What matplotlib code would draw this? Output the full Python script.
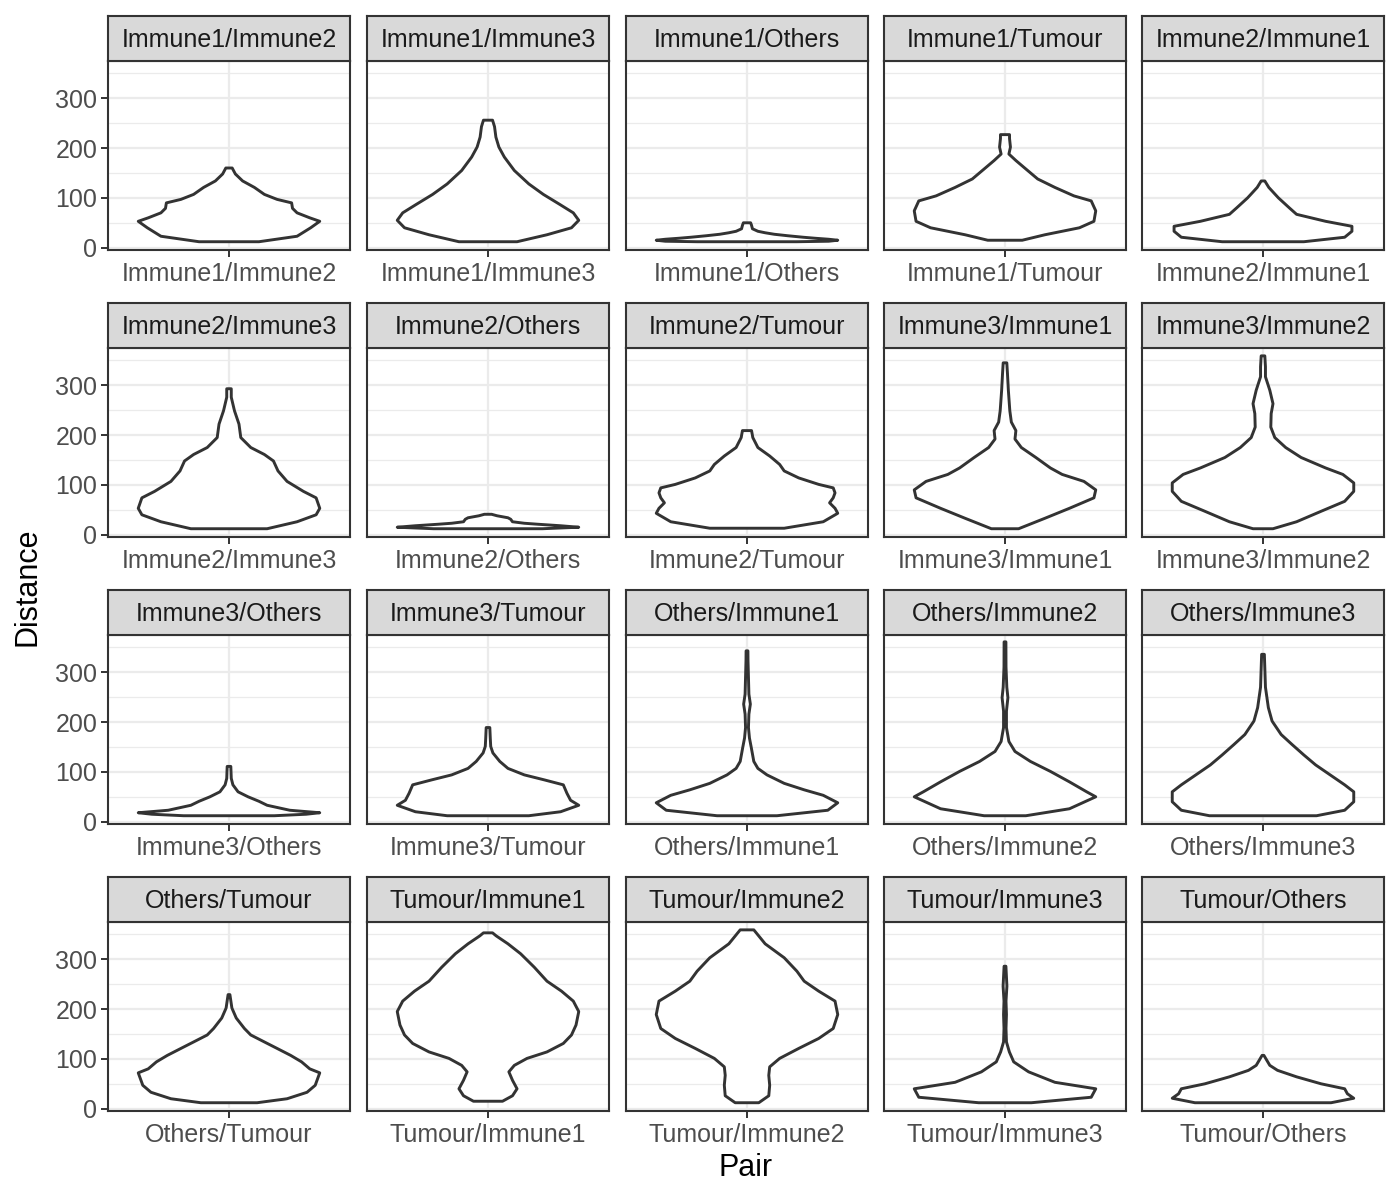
import matplotlib
matplotlib.use("Agg")
import matplotlib.pyplot as plt
import numpy as np

plt.rcParams['font.family'] = ['Liberation Sans', 'DejaVu Sans']

# facet order (facet_wrap, 5 columns)
pairs = [
    "Immune1/Immune2", "Immune1/Immune3", "Immune1/Others", "Immune1/Tumour", "Immune2/Immune1",
    "Immune2/Immune3", "Immune2/Others", "Immune2/Tumour", "Immune3/Immune1", "Immune3/Immune2",
    "Immune3/Others", "Immune3/Tumour", "Others/Immune1", "Others/Immune2", "Others/Immune3",
    "Others/Tumour", "Tumour/Immune1", "Tumour/Immune2", "Tumour/Immune3", "Tumour/Others",
]

# violin outlines: distance levels and relative density (1 = widest)
violin_y = {
    "Immune1/Immune2": [12, 23, 40, 53, 60, 70, 79, 90, 97, 107, 121, 134, 148, 160],
    "Immune1/Immune3": [12, 26, 40, 55, 70, 87, 107, 128, 155, 182, 202, 222, 243, 256],
    "Immune1/Others": [12, 13, 15, 17, 19, 21, 24, 27, 30, 33, 38, 45, 50],
    "Immune1/Tumour": [15, 26, 40, 53, 74, 94, 104, 121, 138, 158, 175, 188, 202, 219, 227],
    "Immune2/Immune1": [12, 21, 33, 43, 53, 67, 80, 100, 121, 134],
    "Immune2/Immune3": [12, 26, 40, 53, 74, 87, 107, 128, 148, 161, 175, 195, 222, 249, 276, 293],
    "Immune2/Others": [12, 15, 18, 21, 23, 26, 31, 34, 38, 41],
    "Immune2/Tumour": [13, 26, 43, 53, 64, 74, 84, 94, 101, 114, 128, 141, 158, 175, 195, 209],
    "Immune3/Immune1": [12, 33, 53, 74, 90, 107, 121, 134, 155, 175, 192, 209, 226, 249, 290, 324, 345],
    "Immune3/Immune2": [12, 26, 47, 67, 87, 104, 121, 134, 155, 175, 195, 216, 243, 263, 290, 317, 337, 359],
    "Immune3/Others": [12, 15, 18, 23, 33, 41, 50, 60, 74, 87, 111],
    "Immune3/Tumour": [12, 20, 33, 43, 57, 74, 84, 94, 107, 121, 138, 151, 168, 189],
    "Others/Immune1": [12, 23, 38, 53, 64, 77, 94, 107, 121, 148, 168, 189, 216, 236, 256, 290, 324, 343],
    "Others/Immune2": [12, 26, 50, 60, 80, 101, 121, 141, 161, 189, 222, 249, 270, 311, 361],
    "Others/Immune3": [12, 23, 40, 60, 74, 94, 114, 134, 155, 175, 202, 229, 270, 303, 336],
    "Others/Tumour": [12, 20, 33, 47, 57, 72, 80, 94, 107, 121, 134, 148, 161, 182, 202, 229],
    "Tumour/Immune1": [15, 26, 40, 57, 74, 87, 101, 114, 131, 148, 168, 195, 216, 236, 256, 284, 311, 331, 347, 353],
    "Tumour/Immune2": [12, 26, 47, 67, 84, 101, 121, 141, 161, 189, 216, 236, 256, 276, 303, 331, 359],
    "Tumour/Immune3": [12, 23, 40, 53, 74, 94, 114, 134, 161, 189, 216, 246, 286],
    "Tumour/Others": [12, 21, 30, 40, 50, 64, 77, 87, 107],
}
violin_w = {
    "Immune1/Immune2": [0.33, 0.75, 0.90, 1.00, 0.89, 0.75, 0.70, 0.69, 0.53, 0.39, 0.28, 0.15, 0.07, 0.035],
    "Immune1/Immune3": [0.32, 0.65, 0.92, 1.00, 0.94, 0.79, 0.61, 0.45, 0.29, 0.18, 0.12, 0.087, 0.072, 0.05],
    "Immune1/Others": [0.55, 0.90, 1.00, 0.90, 0.75, 0.62, 0.45, 0.30, 0.20, 0.12, 0.06, 0.05, 0.04],
    "Immune1/Tumour": [0.19, 0.44, 0.82, 0.98, 1.00, 0.95, 0.76, 0.55, 0.36, 0.23, 0.12, 0.043, 0.06, 0.05, 0.05],
    "Immune2/Immune1": [0.45, 0.90, 0.98, 0.98, 0.69, 0.37, 0.29, 0.17, 0.064, 0.02],
    "Immune2/Immune3": [0.42, 0.75, 0.96, 1.00, 0.96, 0.82, 0.64, 0.54, 0.49, 0.39, 0.24, 0.13, 0.11, 0.06, 0.025, 0.025],
    "Immune2/Others": [0.60, 1.00, 0.80, 0.55, 0.40, 0.27, 0.25, 0.22, 0.10, 0.04],
    "Immune2/Tumour": [0.41, 0.84, 1.00, 0.97, 0.91, 0.95, 0.97, 0.95, 0.79, 0.57, 0.41, 0.36, 0.25, 0.12, 0.064, 0.05],
    "Immune3/Immune1": [0.15, 0.44, 0.71, 0.98, 1.00, 0.87, 0.63, 0.50, 0.34, 0.18, 0.11, 0.12, 0.07, 0.053, 0.037, 0.027, 0.02],
    "Immune3/Immune2": [0.11, 0.37, 0.64, 0.90, 1.00, 1.00, 0.88, 0.69, 0.42, 0.25, 0.13, 0.086, 0.09, 0.11, 0.075, 0.027, 0.027, 0.02],
    "Immune3/Others": [0.50, 0.85, 1.00, 0.67, 0.42, 0.33, 0.21, 0.10, 0.043, 0.025, 0.02],
    "Immune3/Tumour": [0.45, 0.80, 1.00, 0.91, 0.87, 0.83, 0.62, 0.40, 0.22, 0.13, 0.054, 0.03, 0.025, 0.02],
    "Others/Immune1": [0.33, 0.89, 1.00, 0.84, 0.63, 0.41, 0.22, 0.12, 0.075, 0.048, 0.027, 0.016, 0.021, 0.037, 0.021, 0.016, 0.011, 0.01],
    "Others/Immune2": [0.23, 0.71, 1.00, 0.90, 0.71, 0.50, 0.28, 0.11, 0.043, 0.016, 0.016, 0.032, 0.02, 0.011, 0.01],
    "Others/Immune3": [0.59, 0.90, 1.00, 1.00, 0.90, 0.74, 0.58, 0.45, 0.32, 0.20, 0.10, 0.059, 0.027, 0.021, 0.015],
    "Others/Tumour": [0.31, 0.64, 0.86, 0.95, 0.97, 1.00, 0.89, 0.80, 0.68, 0.53, 0.39, 0.24, 0.17, 0.08, 0.032, 0.01],
    "Tumour/Immune1": [0.16, 0.27, 0.32, 0.27, 0.23, 0.29, 0.43, 0.65, 0.83, 0.92, 0.97, 1.00, 0.94, 0.81, 0.65, 0.51, 0.36, 0.22, 0.09, 0.05],
    "Tumour/Immune2": [0.13, 0.24, 0.25, 0.24, 0.25, 0.36, 0.57, 0.79, 0.95, 1.00, 0.97, 0.79, 0.63, 0.55, 0.41, 0.20, 0.075],
    "Tumour/Immune3": [0.29, 0.95, 1.00, 0.55, 0.26, 0.096, 0.048, 0.016, 0.011, 0.016, 0.011, 0.021, 0.01],
    "Tumour/Others": [0.75, 1.00, 0.93, 0.90, 0.64, 0.37, 0.16, 0.075, 0.01],
}

y_major = [0, 100, 200, 300]
y_minor = [50, 150, 250, 350]

W, H = 1400, 1200
fig = plt.figure(figsize=(14, 12), dpi=100)

col_x = [108, 367, 626, 884, 1142]
row_top = [61, 348, 635, 922]
pw, ph, sh = 242, 189, 45
dark = "#333333"
fs = 18

for i, pair in enumerate(pairs):
    r, c = divmod(i, 5)
    x0, top = col_x[c], row_top[r]
    ax = fig.add_axes([x0 / W, 1 - (top + ph) / H, pw / W, ph / H])
    ax.set_xlim(0.4, 1.6)
    ax.set_ylim(-4.6, 374.8)

    ax.set_yticks(y_major)
    ax.set_yticks(y_minor, minor=True)
    ax.set_xticks([1])
    ax.grid(True, which="major", color="#EBEBEB", lw=1.6)
    ax.grid(True, which="minor", axis="y", color="#EBEBEB", lw=0.9)
    ax.set_axisbelow(True)

    ys = np.array(violin_y[pair], dtype=float)
    ws = np.array(violin_w[pair]) * 0.45
    px = np.concatenate([1 - ws, (1 + ws)[::-1]])
    py = np.concatenate([ys, ys[::-1]])
    ax.fill(px, py, facecolor="white", edgecolor=dark, lw=2.1, joinstyle="round", zorder=3)

    for s in ax.spines.values():
        s.set_color(dark)
        s.set_linewidth(1.5)
        s.set_zorder(5)

    ax.set_xticklabels([pair], fontsize=fs, color="#4D4D4D")
    ax.tick_params(axis="both", which="major", length=4.8, width=1.4, color=dark)
    ax.tick_params(axis="x", which="major", pad=4)
    ax.tick_params(axis="y", which="major", pad=3)
    ax.tick_params(axis="y", which="minor", length=0)
    if c == 0:
        ax.set_yticklabels([str(v) for v in y_major], fontsize=fs, color="#4D4D4D")
    else:
        ax.tick_params(axis="y", which="major", length=0, labelleft=False)

    # strip
    sax = fig.add_axes([x0 / W, 1 - top / H, pw / W, sh / H])
    sax.set_facecolor("#D9D9D9")
    sax.set_xticks([])
    sax.set_yticks([])
    for s in sax.spines.values():
        s.set_color(dark)
        s.set_linewidth(1.5)
    sax.text(0.5, 0.46, pair, ha="center", va="center", fontsize=fs, color="#1A1A1A",
             transform=sax.transAxes)

fig.text(746 / W, 1 - 1168 / H, "Pair", ha="center", va="center", fontsize=22, color="black")
fig.text(28 / W, 1 - 587 / H, "Distance", ha="center", va="center", rotation=90, fontsize=22, color="black")

fig.savefig("out.png", dpi=100, facecolor="white")
